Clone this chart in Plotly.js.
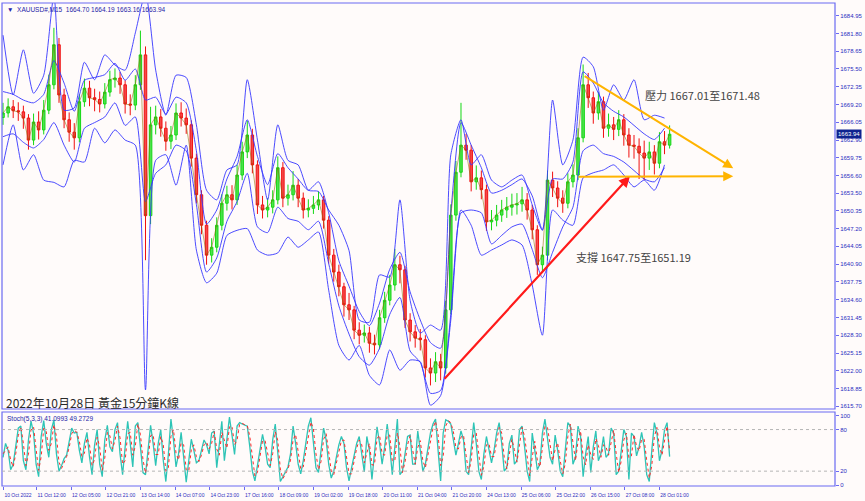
<!DOCTYPE html>
<html><head><meta charset="utf-8">
<script src="https://cdn.plot.ly/plotly-3.0.1.min.js"></script>
<style>html,body{margin:0;padding:0;background:#fffbfa;}#chart{width:865px;height:501px;}</style>
</head><body><div id="chart"></div>
<script>
// ---- data (one point = 10 bars of 15 minutes) ----
const firstOpen = 1666.9;
const closes = [
 1667.7,1668.8,1668.1,1667.9,1666.8,1662.9,1666.1,1664.7,1668.2,1672.7,
 1679.8,1670.9,1666.5,1664.3,1663.3,1669.7,1672.1,1670.4,1670.1,1669.3,
 1671.4,1673.6,1673.9,1672.7,1669.3,1669.1,1672.7,1678.0,1649.5,1665.6,
 1667.0,1665.0,1662.7,1663.8,1667.7,1666.8,1665.6,1659.7,1653.2,1647.8,
 1642.5,1643.9,1647.8,1651.7,1653.2,1652.3,1656.7,1660.8,1663.8,1658.5,
 1651.4,1650.5,1651.0,1652.3,1658.0,1652.6,1653.2,1654.9,1652.6,1650.5,
 1650.8,1651.4,1652.3,1648.7,1642.5,1639.5,1636.9,1633.7,1632.8,1629.2,
 1628.3,1628.7,1626.9,1626.6,1631.4,1634.5,1637.2,1640.8,1639.9,1631.0,
 1628.9,1627.8,1627.5,1622.5,1621.6,1623.6,1622.5,1632.8,1649.6,1657.2,
 1662.0,1661.1,1655.5,1656.2,1654.1,1648.4,1648.7,1649.6,1650.5,1651.0,
 1651.4,1651.6,1652.3,1650.5,1647.0,1640.8,1642.5,1655.8,1654.4,1652.6,
 1651.7,1655.5,1656.7,1663.3,1672.7,1670.4,1667.7,1669.7,1665.0,1665.6,
 1664.8,1666.5,1663.8,1662.0,1661.8,1660.6,1659.7,1660.8,1658.8,1662.6,
 1662.0,1663.94];
const highs = [
 1669.5,1670.3,1670.0,1669.6,1669.0,1667.5,1667.6,1668.0,1670.0,1674.5,
 1682.8,1681.0,1672.0,1667.8,1665.9,1671.0,1673.8,1673.4,1672.0,1671.5,
 1673.0,1675.2,1675.6,1675.0,1673.5,1671.0,1674.4,1682.3,1679.5,1668.8,
 1669.0,1668.4,1666.2,1665.4,1669.4,1669.6,1668.5,1666.4,1660.5,1654.0,
 1648.6,1645.5,1649.2,1653.3,1654.8,1654.9,1658.5,1662.6,1666.3,1664.9,
 1659.3,1653.0,1652.6,1654.0,1660.0,1659.0,1655.0,1657.4,1656.0,1653.6,
 1652.4,1653.0,1653.8,1653.0,1649.4,1643.6,1640.8,1637.6,1635.8,1633.5,
 1630.6,1630.2,1629.8,1628.4,1632.8,1636.0,1639.0,1643.6,1642.4,1640.6,
 1632.2,1630.1,1629.4,1628.3,1624.2,1625.3,1625.0,1634.4,1651.5,1659.2,
 1669.5,1664.0,1662.0,1658.4,1657.5,1655.0,1650.5,1651.4,1652.3,1652.8,
 1653.4,1653.5,1654.6,1653.5,1651.4,1647.8,1644.0,1657.5,1657.3,1655.6,
 1654.0,1657.0,1658.6,1665.0,1676.3,1674.8,1671.5,1671.4,1670.6,1667.6,
 1667.0,1668.2,1667.5,1665.0,1663.8,1663.2,1662.8,1662.6,1662.0,1664.3,
 1664.5,1665.5];
const lows = [
 1665.6,1666.9,1666.8,1666.3,1664.9,1661.2,1662.0,1663.0,1663.9,1667.5,
 1671.9,1669.5,1665.0,1662.6,1661.2,1662.5,1668.8,1668.9,1668.0,1667.8,
 1668.5,1670.6,1672.2,1671.1,1667.6,1667.3,1668.2,1671.8,1641.6,1648.0,
 1663.9,1663.5,1661.0,1661.3,1662.9,1665.3,1664.0,1658.2,1651.7,1646.2,
 1640.8,1641.2,1643.0,1646.9,1650.4,1650.6,1651.4,1655.8,1659.7,1657.0,
 1649.8,1649.0,1649.2,1649.9,1651.5,1651.0,1651.3,1652.2,1651.0,1649.0,
 1649.2,1649.8,1650.5,1647.2,1641.0,1637.8,1635.2,1631.6,1631.0,1627.6,
 1626.7,1627.0,1625.2,1624.9,1625.8,1630.5,1633.6,1636.2,1637.5,1629.6,
 1627.2,1626.1,1625.6,1620.8,1619.4,1620.0,1620.3,1621.5,1632.0,1648.6,
 1656.3,1659.4,1653.8,1654.1,1652.4,1646.8,1646.9,1647.6,1648.4,1649.1,
 1649.5,1649.7,1650.2,1648.8,1645.3,1639.0,1639.5,1641.6,1652.8,1651.0,
 1650.0,1650.8,1654.5,1655.8,1662.5,1668.6,1665.8,1666.5,1663.3,1663.5,
 1662.9,1663.6,1661.9,1659.8,1659.6,1656.0,1655.8,1657.6,1656.8,1657.9,
 1660.4,1661.4];
// envelope lines, one value every 2 points
const bandUpperOuter = [
 1681.5,1670.9,1678.9,1671.2,1674.4,1688.5,1668.2,1668.6,1676.7,1673.6,
 1678.0,1676.2,1675.3,1681.9,1689.0,1675.3,1667.3,1674.4,1674.0,1665.6,
 1654.0,1652.3,1657.6,1658.5,1673.6,1662.9,1652.3,1665.6,1659.3,1658.5,
 1654.0,1653.8,1650.5,1647.8,1643.3,1631.0,1630.6,1639.0,1638.6,1652.3,
 1634.5,1628.7,1630.1,1629.2,1660.3,1666.5,1658.5,1660.3,1655.8,1654.6,
 1655.8,1656.7,1651.4,1646.9,1670.0,1658.5,1662.9,1677.6,1675.9,1668.2,
 1672.7,1670.0,1673.6,1666.5,1667.3,1666.8];
const bandUpperInner = [
 1671.5,1671.0,1670.0,1669.5,1671.0,1677.0,1673.0,1668.0,1673.5,1674.0,
 1674.5,1676.5,1673.5,1675.5,1670.0,1670.5,1667.5,1670.5,1669.5,1661.0,
 1648.0,1650.5,1656.0,1660.0,1666.5,1660.0,1655.0,1660.5,1658.0,1656.0,
 1654.0,1655.5,1650.0,1641.5,1637.0,1632.5,1630.0,1634.0,1640.0,1643.0,
 1636.0,1631.0,1627.0,1626.0,1650.0,1666.0,1662.0,1658.0,1653.5,1654.0,
 1655.0,1656.0,1653.0,1647.0,1656.0,1656.0,1659.0,1675.0,1673.0,1669.5,
 1668.0,1667.0,1665.5,1664.0,1663.0,1665.0];
const bandLowerInner = [
 1663.5,1664.0,1662.5,1661.5,1663.0,1666.0,1662.0,1659.0,1665.0,1666.0,
 1667.0,1669.5,1665.5,1667.0,1652.0,1657.0,1658.5,1662.0,1661.0,1651.5,
 1639.5,1642.0,1648.5,1652.0,1657.0,1647.5,1646.5,1651.0,1649.0,1648.5,
 1647.0,1648.5,1641.0,1633.5,1628.5,1624.5,1623.0,1626.0,1632.0,1635.0,
 1625.5,1623.5,1618.0,1618.5,1632.0,1650.0,1650.5,1650.0,1644.5,1646.0,
 1647.5,1648.0,1643.5,1638.5,1643.0,1647.5,1651.0,1661.0,1662.0,1660.5,
 1660.0,1659.0,1657.5,1656.0,1655.5,1658.0];
const bandLowerOuter = [
 1658.5,1665.6,1657.6,1660.3,1655.8,1655.4,1654.6,1659.3,1659.0,1665.0,
 1662.4,1664.7,1662.9,1662.0,1618.6,1659.3,1660.3,1654.9,1662.0,1643.4,
 1637.6,1639.3,1646.0,1646.9,1647.2,1643.4,1642.5,1642.9,1645.7,1643.9,
 1645.2,1646.6,1636.3,1626.5,1623.9,1626.5,1621.2,1619.5,1625.7,1622.1,
 1623.9,1623.6,1615.9,1617.6,1631.0,1650.5,1647.8,1642.5,1643.4,1644.3,
 1645.2,1644.3,1637.2,1628.3,1650.5,1648.7,1647.8,1656.2,1657.1,1657.6,
 1658.5,1656.7,1654.6,1655.8,1654.0,1658.5];
// stochastic, one value every half point
const stochMain = [
 40,60,50,22,30,60,82,85,35,22, 65,92,75,30,12,70,93,60,40,80,
 94,45,20,28,38,43,65,82,75,76, 50,32,60,76,40,15,58,80,30,12,
 65,86,55,48,80,90,45,15,55,92, 60,26,85,90,55,18,15,55,86,60,
 28,60,80,35,5,45,95,65,26,45, 76,40,4,35,66,50,32,35,50,65,
 58,45,75,78,25,60,92,35,70,98, 72,44,85,90,88,86,85,55,20,6,
 30,55,73,55,30,25,65,88,40,5, 12,20,26,45,85,60,30,16,35,60,
 85,97,65,25,18,50,82,65,30,10, 20,40,58,70,60,25,6,25,45,60,
 70,45,19,70,50,8,50,84,60,30, 55,88,55,15,55,95,15,20,45,70,
 72,30,30,78,50,20,30,55,75,88, 95,50,6,75,94,92,88,65,43,60,
 78,65,20,15,55,90,60,20,8,45, 70,50,32,50,75,90,60,20,25,60,
 72,30,35,80,85,55,20,5,75,50, 22,30,75,95,70,40,30,72,50,20,
 12,50,90,85,30,40,85,70,12,45, 70,18,55,78,35,45,70,40,45,82,
 75,15,20,50,80,70,8,75,70,42, 55,76,55,15,5,50,90,75,35,50,
 80,90,41];
const stochSignal = [
 45,50,55,36,26,45,71,84,60,28, 44,79,84,52,21,41,82,77,50,60,
 87,70,33,24,33,41,54,74,79,76, 63,41,46,68,58,28,37,69,55,21,
 39,76,71,52,64,85,68,30,35,74, 76,43,56,88,73,37,17,35,71,73,
 44,44,70,58,20,25,70,80,46,36, 61,58,22,20,51,58,41,34,43,58,
 62,52,60,77,52,43,76,64,53,84, 85,58,65,88,89,87,86,70,38,13,
 18,43,64,64,43,28,45,77,64,23, 9,16,23,36,65,73,45,23,26,48,
 73,91,81,45,22,34,66,74,48,20, 15,30,49,64,65,43,16,16,35,53,
 65,58,32,45,60,29,29,67,72,45, 43,72,72,35,35,75,55,18,33,58,
 71,51,30,54,64,35,25,43,65,82, 92,73,28,41,85,93,90,77,54,52,
 69,72,43,18,35,73,75,40,14,27, 58,60,41,41,63,83,75,40,23,43,
 66,51,33,58,83,70,38,13,40,63, 36,26,53,85,83,55,35,51,61,35,
 16,31,70,88,58,35,63,78,41,29, 58,44,37,67,57,40,58,55,43,64,
 79,45,18,35,65,75,39,42,73,56, 49,66,66,35,10,28,70,83,55,43,
 65,85,49];
const timeLabels = ['10 Oct 2022','11 Oct 12:00','12 Oct 05:00','12 Oct 21:00','13 Oct 14:00',
 '14 Oct 07:00','14 Oct 23:00','17 Oct 16:00','18 Oct 09:00','19 Oct 02:00','19 Oct 18:00',
 '20 Oct 11:00','21 Oct 04:00','21 Oct 20:00','24 Oct 13:00','25 Oct 06:00','25 Oct 22:00',
 '26 Oct 15:00','27 Oct 08:00','28 Oct 01:00'];
const priceTicks = [1684.95,1681.80,1678.65,1675.50,1672.35,1669.20,1666.05,1662.90,1659.75,
 1656.60,1653.50,1650.35,1647.20,1644.05,1640.90,1637.75,1634.60,1631.45,1628.30,1625.15,
 1622.00,1618.85,1615.70];
const stochTicks = [0,20,80,100];
const lastPrice = 1663.94;

// ---- build ----
const idx = closes.map((_, i) => i);
const opens = closes.map((c, i) => i === 0 ? firstOpen : closes[i - 1]);
const bandX = bandUpperOuter.map((_, k) => 2 * k);
const stochX = stochMain.map((_, j) => j * 0.5);
const BARS_PER_POINT = 10, LABEL_STEP_BARS = 68, FIRST_LABEL_OFFSET = 6.62;
const tickX = timeLabels.map((_, k) => k === 0 ? 0 : FIRST_LABEL_OFFSET + (k - 1) * LABEL_STEP_BARS / BARS_PER_POINT);

const blue = 'rgba(55,55,255,0.9)';
const bandLine = (y) => ({type:'scatter', mode:'lines', x:bandX, y:y, xaxis:'x', yaxis:'y',
  line:{color:blue, width:1, shape:'spline', smoothing:0.6}, hoverinfo:'skip'});

const traces = [
  bandLine(bandUpperOuter), bandLine(bandLowerOuter),
  bandLine(bandUpperInner), bandLine(bandLowerInner),
  {type:'candlestick', x:idx, open:opens, high:highs, low:lows, close:closes, xaxis:'x', yaxis:'y',
   increasing:{line:{color:'#14d814', width:1}, fillcolor:'rgba(20,216,20,0.75)'},
   decreasing:{line:{color:'#f01010', width:1}, fillcolor:'rgba(240,16,16,0.75)'},
   whiskerwidth:0, hoverinfo:'skip'},
  {type:'scatter', mode:'lines', x:idx, y:closes, xaxis:'x', yaxis:'y',
   line:{color:'rgba(140,105,0,0.55)', width:1}, hoverinfo:'skip'},
  {type:'scatter', mode:'lines', x:stochX, y:stochMain, xaxis:'x', yaxis:'y2',
   line:{color:'#2ec4b6', width:1.3}, hoverinfo:'skip'},
  {type:'scatter', mode:'lines', x:stochX, y:stochSignal, xaxis:'x', yaxis:'y2',
   line:{color:'#ff2a2a', width:1, dash:'dot'}, hoverinfo:'skip'}
];

const axisBlue = '#6a6af2';
const labelBlue = '#2c2cbf';
const tf = {family:'Liberation Sans, Arial, sans-serif', size:6, color:labelBlue};
const tfx = {family:'Liberation Sans, Arial, sans-serif', size:5, color:labelBlue};
const mainDom = [0.1594, 1], stochDom = [0, 0.1532];

const layout = {
  width:865, height:501,
  margin:{l:2, r:30, t:3, b:15, pad:0},
  paper_bgcolor:'#fffbfa', plot_bgcolor:'#fffbfa',
  showlegend:false,
  xaxis:{range:[-0.2,163.5], anchor:'y2', tickmode:'array', tickvals:tickX, ticktext:timeLabels,
    tickangle:0, ticks:'outside', ticklen:3, tickcolor:axisBlue, tickfont:tfx, ticklabelshift:15, ticklabelstandoff:1,
    showgrid:false, zeroline:false, showline:false, rangeslider:{visible:false}, fixedrange:true},
  yaxis:{domain:mainDom, range:[1615.22,1687.2], side:'right', tickmode:'array', tickvals:priceTicks,
    tickformat:'.2f', ticks:'outside', ticklen:3, tickcolor:axisBlue, tickfont:tf,
    showgrid:false, zeroline:false, showline:false, fixedrange:true},
  yaxis2:{domain:stochDom, range:[-1.4,105.3], side:'right', anchor:'x', tickmode:'array', tickvals:stochTicks,
    ticks:'outside', ticklen:3, tickcolor:axisBlue, tickfont:tf,
    showgrid:false, zeroline:false, showline:false, fixedrange:true},
  shapes:[
    {type:'rect', xref:'paper', yref:'paper', x0:0, x1:1, y0:mainDom[0], y1:mainDom[1], line:{color:axisBlue, width:1.2}},
    {type:'rect', xref:'paper', yref:'paper', x0:0, x1:1, y0:stochDom[0], y1:stochDom[1], line:{color:axisBlue, width:1.2}},
    {type:'line', xref:'paper', yref:'y2', x0:0, x1:1, y0:80, y1:80, line:{color:'#b5b5b5', width:1, dash:'dot'}},
    {type:'line', xref:'paper', yref:'y2', x0:0, x1:1, y0:20, y1:20, line:{color:'#b5b5b5', width:1, dash:'dot'}}
  ],
  annotations:[
    {xref:'paper', yref:'paper', x:0.004, y:1, xanchor:'left', yanchor:'top', yshift:-1, showarrow:false,
     text:'▼  XAUUSD#,M15  1664.70 1664.19 1663.16 1663.94', font:{family:'Liberation Sans, Arial', size:6.5, color:'#2424a8'}},
    {xref:'paper', yref:'paper', x:0.004, y:stochDom[1], xanchor:'left', yanchor:'top', yshift:-1, showarrow:false,
     text:'Stoch(5,3,3) 41.0993 49.2729', font:{family:'Liberation Sans, Arial', size:6.5, color:'#2424a8'}},
    {xref:'paper', yref:'y', x:1, y:lastPrice, xanchor:'left', yanchor:'middle', xshift:1, showarrow:false,
     text:'1663.94', bgcolor:'#0d2390', borderpad:1, font:{family:'Liberation Sans, Arial', size:6, color:'#ffffff'}},
    {xref:'paper', yref:'y', x:0.002, y:1616.4, xanchor:'left', yanchor:'middle', showarrow:false,
     text:'2022年10月28日 黃金15分鐘K線', font:{family:'Noto Sans CJK TC', size:12, color:'#2a2a2a'}},
    {xref:'x', yref:'y', x:125.8, y:1670.9, xanchor:'left', yanchor:'middle', showarrow:false,
     text:'壓力 1667.01至1671.48', font:{family:'Noto Sans CJK TC', size:11, color:'#444444'}},
    {xref:'x', yref:'y', x:112.2, y:1642.2, xanchor:'left', yanchor:'middle', showarrow:false,
     text:'支撐 1647.75至1651.19', font:{family:'Noto Sans CJK TC', size:11, color:'#444444'}},
    {xref:'x', yref:'y', axref:'x', ayref:'y', x:123.2, y:1656.5, ax:86.5, ay:1620.3, text:'',
     showarrow:true, arrowhead:2, arrowsize:1, arrowwidth:2.2, arrowcolor:'#ff1a1a'},
    {xref:'x', yref:'y', axref:'x', ayref:'y', x:143.5, y:1657.9, ax:114.0, ay:1674.4, text:'',
     showarrow:true, arrowhead:2, arrowsize:1, arrowwidth:2, arrowcolor:'#ffb400'},
    {xref:'x', yref:'y', axref:'x', ayref:'y', x:143.5, y:1656.5, ax:112.8, ay:1656.4, text:'',
     showarrow:true, arrowhead:2, arrowsize:1, arrowwidth:2, arrowcolor:'#ffb400'}
  ]
};
Plotly.newPlot('chart', traces, layout, {staticPlot:true, displayModeBar:false});
</script></body></html>
